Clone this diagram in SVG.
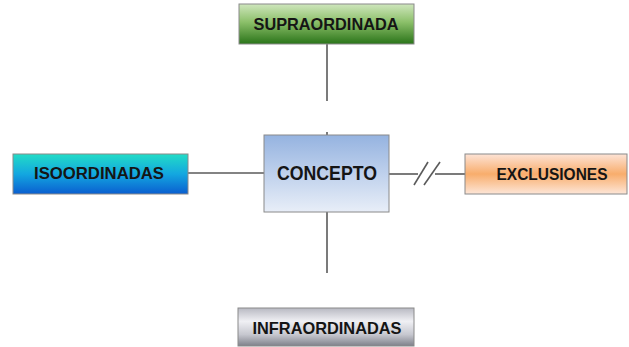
<svg xmlns="http://www.w3.org/2000/svg" width="629" height="347" viewBox="0 0 629 347">
<defs>
<linearGradient id="gGreen" x1="0" y1="0" x2="0" y2="1">
<stop offset="0" stop-color="#cfe6bd"/><stop offset="0.45" stop-color="#8cc06a"/><stop offset="1" stop-color="#2a7419"/>
</linearGradient>
<linearGradient id="gBlue" x1="0" y1="0" x2="0" y2="1">
<stop offset="0" stop-color="#22dcc6"/><stop offset="0.5" stop-color="#13a7e0"/><stop offset="1" stop-color="#0a5ed0"/>
</linearGradient>
<linearGradient id="gConcept" x1="0" y1="0" x2="0" y2="1">
<stop offset="0" stop-color="#95b3e0"/><stop offset="1" stop-color="#e8eef8"/>
</linearGradient>
<linearGradient id="gOrange" x1="0" y1="0" x2="0" y2="1">
<stop offset="0" stop-color="#fde3d6"/><stop offset="0.5" stop-color="#f8ad6c"/><stop offset="1" stop-color="#fde6d8"/>
</linearGradient>
<linearGradient id="gSilver" x1="0" y1="0" x2="0" y2="1">
<stop offset="0" stop-color="#b8b9c2"/><stop offset="0.35" stop-color="#f0f0f4"/><stop offset="0.7" stop-color="#c6c7cf"/><stop offset="1" stop-color="#7e808a"/>
</linearGradient>
</defs>
<style>
.box{stroke:#8a8a8a;stroke-width:1}
.lbl{font-family:"Liberation Sans",Arial,sans-serif;font-weight:bold;fill:#151515;text-anchor:middle}
.con{stroke:#5a5a5a;stroke-width:1.6;fill:none}
</style>
<g id="connectors">
<line class="con" x1="327" y1="44" x2="327" y2="101"/>
<line class="con" x1="327" y1="132" x2="327" y2="135"/>
<line class="con" x1="188" y1="173" x2="264" y2="173"/>
<line class="con" x1="327" y1="212" x2="327" y2="273"/>
<line class="con" x1="389" y1="174" x2="418" y2="174"/>
<line class="con" x1="435" y1="174" x2="465" y2="174"/>
<line class="con" x1="414" y1="185" x2="428" y2="162"/>
<line class="con" x1="424" y1="185" x2="440" y2="162"/>
</g>
<g id="supraordinada">
<rect class="box" x="239" y="4" width="175" height="40" fill="url(#gGreen)"/>
<text class="lbl" x="326" y="30" font-size="16.5" textLength="145" lengthAdjust="spacingAndGlyphs">SUPRAORDINADA</text>
</g>
<g id="isoordinadas">
<rect class="box" x="13" y="154" width="175" height="40" fill="url(#gBlue)"/>
<text class="lbl" x="99" y="179" font-size="16.5" textLength="130" lengthAdjust="spacingAndGlyphs">ISOORDINADAS</text>
</g>
<g id="concepto">
<rect class="box" x="264" y="135" width="125" height="77" fill="url(#gConcept)"/>
<text class="lbl" x="327" y="180" font-size="19.5" textLength="100" lengthAdjust="spacingAndGlyphs">CONCEPTO</text>
</g>
<g id="exclusiones">
<rect class="box" x="465" y="154" width="162" height="40" fill="url(#gOrange)"/>
<text class="lbl" x="552" y="180" font-size="16.5" textLength="111" lengthAdjust="spacingAndGlyphs">EXCLUSIONES</text>
</g>
<g id="infraordinadas">
<rect class="box" x="238" y="308" width="176" height="38" fill="url(#gSilver)"/>
<text class="lbl" x="327" y="334" font-size="16.5" textLength="149" lengthAdjust="spacingAndGlyphs">INFRAORDINADAS</text>
</g>
</svg>
